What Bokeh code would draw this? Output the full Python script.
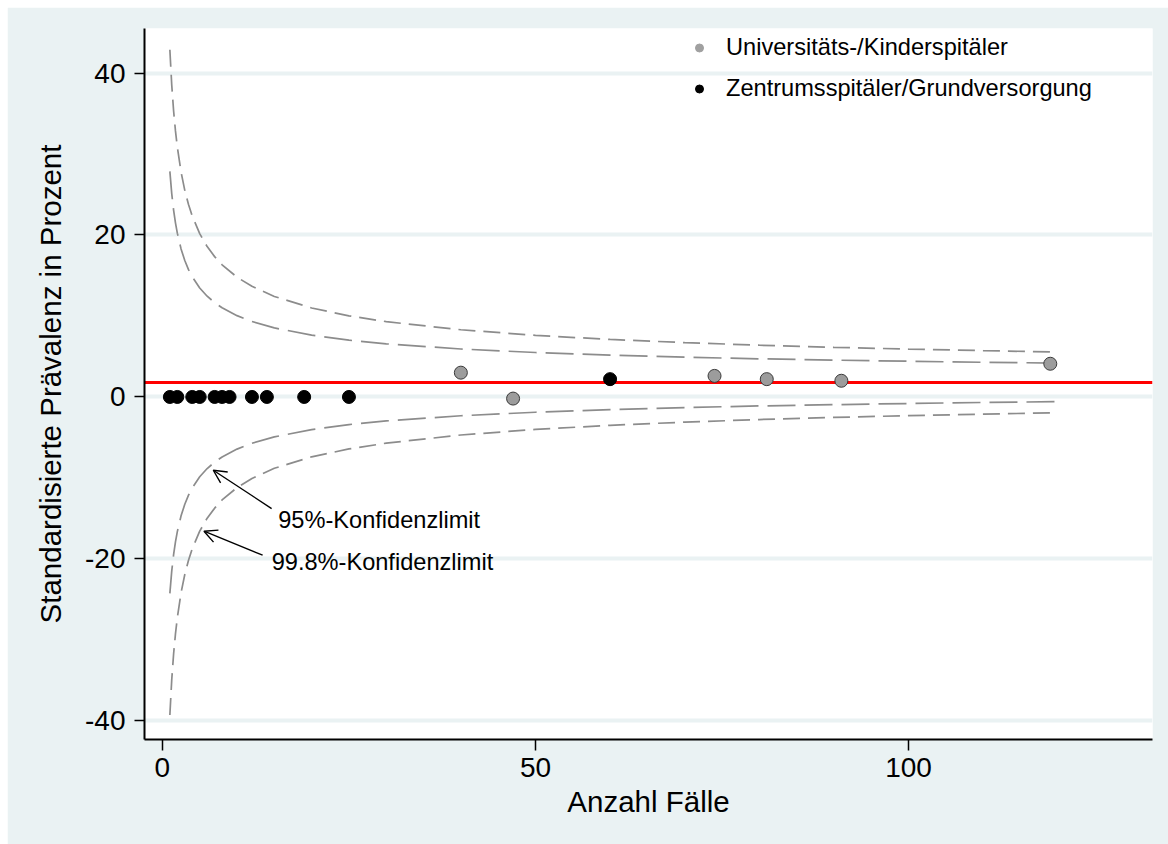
from bokeh.plotting import figure
from bokeh.models import (Range1d, FixedTicker, Legend, LegendItem, Span, Arrow,
                          OpenHead, Label)
from bokeh.embed import file_html
from bokeh.resources import INLINE

# ---- data ----
x_ticks = [0, 50, 100]
y_ticks = [-40, -20, 0, 20, 40]
y_tick_labels = ["-40", "-20", "0", "20", "40"]

label_uni = "Universitäts-/Kinderspitäler"
label_zen = "Zentrumsspitäler/Grundversorgung"

uni_x = [40, 47, 74, 81, 91, 119]
uni_y = [3.0, -0.2, 2.6, 2.2, 2.0, 4.1]

zen_x = [1, 2, 4, 5, 7, 8, 9, 12, 14, 19, 25, 60]
zen_y = [0, 0, 0, 0, 0, 0, 0, 0, 0, 0, 0, 2.2]

mean_value = 1.8

lim_n = [1, 1.25, 1.5, 1.75, 2, 2.5, 3, 3.5, 4, 5, 6, 7, 8, 10, 12, 15, 20, 25,
         30, 40, 50, 60, 70, 80, 90, 100, 110, 120]
upper95 = [27.86, 25.11, 23.08, 21.50, 20.23, 18.28, 16.85, 15.73, 14.83, 13.45,
           12.44, 11.65, 11.01, 10.04, 9.32, 8.53, 7.63, 7.01, 6.56, 5.92, 5.49,
           5.16, 4.91, 4.71, 4.55, 4.41, 4.28, 4.18]
lower95 = [-24.26, -21.51, -19.48, -17.90, -16.63, -14.68, -13.25, -12.13, -11.23,
           -9.85, -8.84, -8.05, -7.41, -6.44, -5.72, -4.93, -4.03, -3.41, -2.96,
           -2.32, -1.89, -1.56, -1.31, -1.11, -0.95, -0.81, -0.68, -0.58]
upper998 = [42.88, 38.54, 35.34, 32.85, 30.85, 27.78, 25.52, 23.76, 22.34, 20.17,
            18.57, 17.33, 16.32, 14.79, 13.66, 12.41, 10.99, 10.02, 9.30, 8.30,
            7.61, 7.10, 6.71, 6.39, 6.13, 5.91, 5.72, 5.55]
lower998 = [-39.28, -34.94, -31.74, -29.25, -27.25, -24.18, -21.92, -20.16, -18.74,
            -16.57, -14.97, -13.73, -12.72, -11.19, -10.06, -8.81, -7.39, -6.42,
            -5.70, -4.70, -4.01, -3.50, -3.11, -2.79, -2.53, -2.31, -2.12, -1.95]

# ---- styling ----
BG = "#eaf2f3"
FONT = "Liberation Sans"
LIM_COLOR = "#8c8c8c"

p = figure(width=1161, height=837, output_backend="svg", toolbar_location=None,
           x_range=Range1d(-2.4, 132.7), y_range=Range1d(-42.3, 45.5),
           min_border_left=137, min_border_right=16, min_border_top=21,
           min_border_bottom=105)
p.margin = (7, 0, 0, 7)
p.outline_line_color = None
p.background_fill_color = "white"
p.border_fill_color = BG

p.xgrid.visible = False
p.ygrid.ticker = FixedTicker(ticks=y_ticks)
p.ygrid.grid_line_color = BG
p.ygrid.grid_line_width = 4

for ax, ticks in ((p.xaxis, x_ticks), (p.yaxis, y_ticks)):
    ax.ticker = FixedTicker(ticks=ticks)
    ax.axis_line_color = "black"
    ax.axis_line_width = 2
    ax.major_tick_line_color = "black"
    ax.major_tick_line_width = 1.5
    ax.major_tick_in = 0
    ax.minor_tick_line_color = None
    ax.major_label_text_font = FONT
    ax.major_label_text_font_size = "28px"
    ax.major_label_text_color = "black"
    ax.axis_label_text_font = FONT
    ax.axis_label_text_font_size = "29.5px"
    ax.axis_label_text_font_style = "normal"
    ax.axis_label_text_color = "black"

p.yaxis.major_label_overrides = {t: s for t, s in zip(y_ticks, y_tick_labels)}

p.xaxis.axis_label = "Anzahl Fälle"
p.xaxis.major_tick_out = 11
p.xaxis.major_label_standoff = 7
p.xaxis.axis_label_standoff = 5
p.yaxis.axis_label = "Standardisierte Prävalenz in Prozent"
p.yaxis.major_tick_out = 10
p.yaxis.major_label_standoff = 9
p.yaxis.axis_label_standoff = 15

# mean line
p.add_layout(Span(location=mean_value, dimension="width", line_color="#ff0000",
                  line_width=3, level="underlay"))

# control limits
p.line(lim_n, upper95, line_color=LIM_COLOR, line_width=1.7, line_dash="28 9")
p.line(lim_n, lower95, line_color=LIM_COLOR, line_width=1.7, line_dash="28 9")
p.line(lim_n, upper998, line_color=LIM_COLOR, line_width=1.7, line_dash="17 8")
p.line(lim_n, lower998, line_color=LIM_COLOR, line_width=1.7, line_dash="17 8")

# points
p.scatter(zen_x, zen_y, size=13, fill_color="black", line_color="black")
p.scatter(uni_x, uni_y, size=13, fill_color="#9c9c9c", line_color="#3a3a3a",
          line_width=1)

# legend (marker-only renderers whose single point is not drawn)
nan = float("nan")
leg_uni = p.scatter(x=[nan], y=[nan], size=10, fill_color="#a0a0a0",
                    line_color="#a0a0a0")
leg_zen = p.scatter(x=[nan], y=[nan], size=10, fill_color="black",
                    line_color="black")
legend = Legend(items=[LegendItem(label=label_uni, renderers=[leg_uni]),
                       LegendItem(label=label_zen, renderers=[leg_zen])],
                location=(545, 637), orientation="vertical",
                background_fill_alpha=0, border_line_alpha=0, padding=0, margin=0,
                spacing=14, glyph_width=20, glyph_height=27, label_height=27,
                label_standoff=17, label_text_font=FONT,
                label_text_font_size="23.6px", label_text_color="black")
p.add_layout(legend)

# annotations
for txt, tx, ty, xs, ys, xe, ye in (
        ("95%-Konfidenzlimit", 15.52, -15.15, 14.64, -13.78, 6.82, -9.05),
        ("99.8%-Konfidenzlimit", 14.64, -20.4, 13.43, -19.54, 5.57, -16.58)):
    p.add_layout(Label(x=tx, y=ty, text=txt, text_font=FONT, text_font_size="23.6px",
                       text_baseline="alphabetic", text_color="black"))
    p.add_layout(Arrow(x_start=xs, y_start=ys, x_end=xe, y_end=ye,
                       line_color="black", line_width=1.4,
                       end=OpenHead(size=13, line_color="black", line_width=1.4)))

open("out.html", "w").write(file_html(p, INLINE))
